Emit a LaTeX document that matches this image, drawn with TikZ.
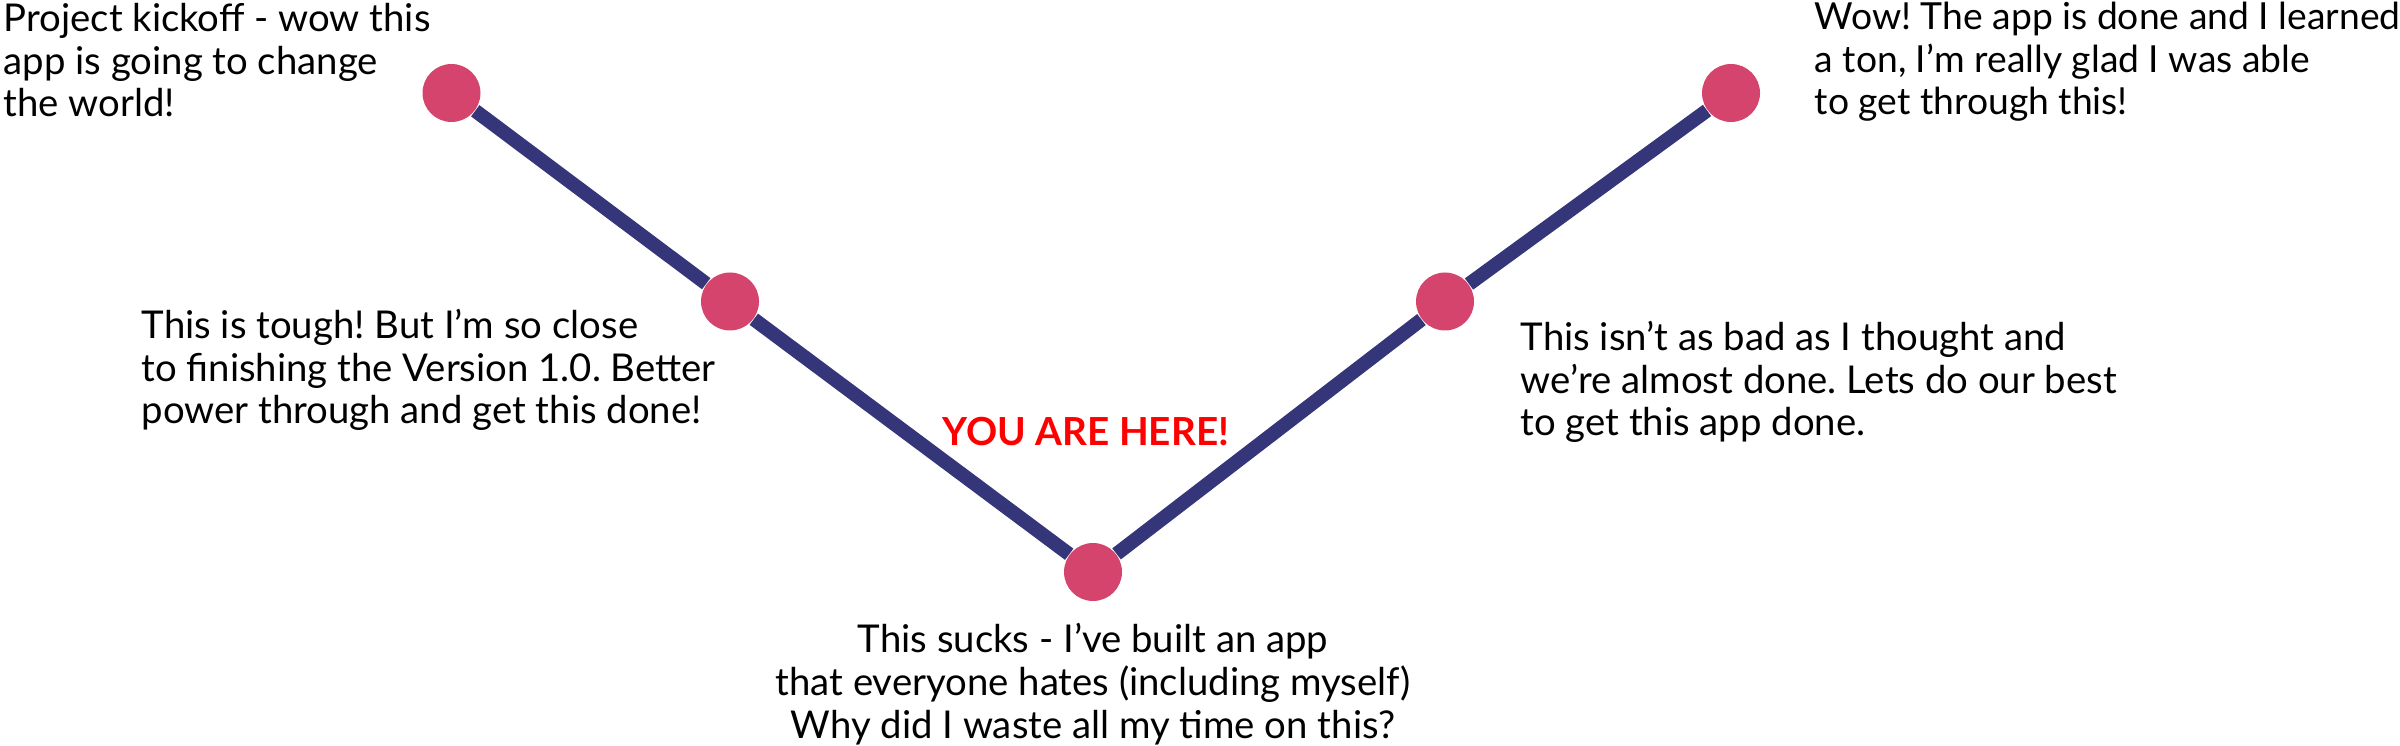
\documentclass[tikz,border=0pt]{standalone}
\usepackage{fontspec}
\setmainfont{Lato}
\usepackage{tikz}
\frenchspacing

\definecolor{dotpink}{HTML}{D5446C}
\definecolor{trackblue}{HTML}{35357A}
\definecolor{herered}{HTML}{FF0000}

\begin{document}
\begin{tikzpicture}[
  stage/.style={circle, fill=dotpink, minimum size=0.58cm, inner sep=0pt},
  track/.style={draw=trackblue, line width=0.14cm},
  note/.style={align=left, inner sep=0pt, font=\fontsize{10.9}{12.2}\selectfont},
  ]
  \useasboundingbox (0,0) rectangle (24,7.45);
  \node[stage] (d1) at (4.515,6.52) {};
  \node[stage] (d2) at (7.30,4.435) {};
  \node[stage] (d3) at (10.93,1.73) {};
  \node[stage] (d4) at (14.45,4.435) {};
  \node[stage] (d5) at (17.31,6.52) {};
  \draw[track] (d1) -- (d2);
  \draw[track] (d2) -- (d3);
  \draw[track] (d3) -- (d4);
  \draw[track] (d4) -- (d5);
  % base anchor sits on the last line
  \node[note, anchor=base west] (t1) at (0.03,6.28) {Project kickoff - wow this\\app is going to change\\the world!};
  \node[note, anchor=base west] (t2) at (1.41,3.21) {This is tough! But I’m so close\\to finishing the Version 1.0. Better\\power through and get this done!};
  \node[note, align=center, anchor=base] (t3) at (10.93,0.07) {This sucks - I’ve built an app\\that everyone hates (including myself)\\Why did I waste all my time on this?};
  \node[note, anchor=base west] (t4) at (15.20,3.09) {This isn’t as bad as I thought and\\we’re almost done. Lets do our best\\to get this app done.};
  \node[note, anchor=base west, font=\fontsize{10.6}{12.2}\selectfont] (t5) at (18.14,6.30) {Wow! The app is done and I learned\\a ton, I’m really glad I was able\\to get through this!};
  \node[inner sep=0pt, anchor=base, text=herered, font=\fontsize{11}{12}\selectfont\bfseries] (here) at (10.86,2.99) {YOU ARE HERE!};
\end{tikzpicture}
\end{document}
